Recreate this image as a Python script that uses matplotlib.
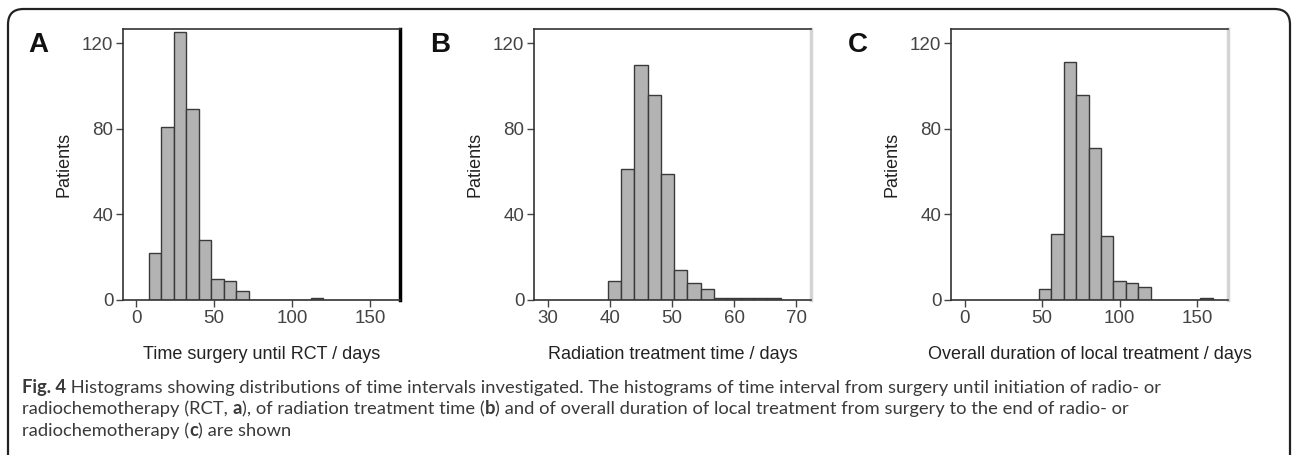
import matplotlib.pyplot as plt
from matplotlib.patches import FancyBboxPatch

# histogram counts
a_counts = [22, 81, 125, 89, 28, 10, 9, 4, 0, 0, 0, 0, 0, 1]
a_start, a_width = 8, 8
b_counts = [9, 61, 110, 96, 59, 14, 8, 5, 1, 1, 1, 1, 1]
b_start, b_width = 39.57, 2.15
c_counts = [5, 31, 111, 96, 71, 30, 9, 8, 6, 0, 0, 0, 0, 1]
c_start, c_width = 48, 8

a_ticks = [0, 50, 100, 150]
b_ticks = [30, 40, 50, 60, 70]
c_ticks = [0, 50, 100, 150]
y_ticks = [0, 40, 80, 120]

labels = ['Time surgery until RCT / days', 'Radiation treatment time / days',
          'Overall duration of local treatment / days']

plt.rcParams['font.family'] = ['Liberation Sans', 'DejaVu Sans']

W, H = 1292, 455
fig = plt.figure(figsize=(W / 100, H / 100), dpi=100)

panels = [
    ('A', a_counts, a_start, a_width, a_ticks, (-8.4, 169), 123, 28, ('black', 2.5)),
    ('B', b_counts, b_start, b_width, b_ticks, (27.7, 72.4), 534, 430, ('#d4d4d4', 2.5)),
    ('C', c_counts, c_start, c_width, c_ticks, (-8.8, 169.9), 951, 848, ('#d4d4d4', 2.5)),
]

for i, (letter, counts, start, width, ticks, xlim, left, lx, rspine) in enumerate(panels):
    ax = fig.add_axes([left / W, (H - 300) / H, 277 / W, 271 / H])
    edges = [start + k * width for k in range(len(counts))]
    ax.bar(edges, counts, width=width, align='edge', color='#b3b3b3',
           edgecolor='#3a3a3a', linewidth=1.0, zorder=2)
    ax.set_xlim(*xlim)
    ax.set_ylim(0, 126.6)
    ax.set_xticks(ticks)
    ax.set_yticks(y_ticks)
    ax.tick_params(direction='out', length=5, width=1, color='#444444',
                   labelcolor='#444444', labelsize=13.5, pad=2)
    for s in ['left', 'bottom', 'top']:
        ax.spines[s].set_color('#333333')
        ax.spines[s].set_linewidth(1.2)
    ax.spines['right'].set_color(rspine[0])
    ax.spines['right'].set_linewidth(rspine[1])
    ax.set_ylabel('Patients', fontsize=13, color='#222222', labelpad=7)
    ax.set_xlabel(labels[i], fontsize=13, color='#222222', labelpad=14)
    fig.text(lx / W, 1 - 45 / H, letter, fontsize=20, fontweight='bold',
             ha='left', va='center', color='#111111')

# outer rounded frame of the figure panel
frame = FancyBboxPatch((8 / W, -0.2), 1282 / W, 1.2 - 9 / H,
                       boxstyle='round,pad=0,rounding_size=0.012',
                       transform=fig.transFigure, fill=False,
                       edgecolor='#222222', linewidth=1.6, mutation_aspect=W / H)
fig.patches.append(frame)

# caption with bold pieces
caption = [
    [('Fig. 4', True), (' Histograms showing distributions of time intervals investigated. '
      'The histograms of time interval from surgery until initiation of radio- or', False)],
    [('radiochemotherapy (RCT, ', False), ('a', True), ('), of radiation treatment time (', False),
     ('b', True), (') and of overall duration of local treatment from surgery to the end of radio- or', False)],
    [('radiochemotherapy (', False), ('c', True), (') are shown', False)],
]
cap_y = [388, 409, 431]
fig.canvas.draw()
renderer = fig.canvas.get_renderer()
for line, yy in zip(caption, cap_y):
    x = 22
    for txt, bold in line:
        t = fig.text(x / W, 1 - yy / H, txt, fontsize=13.2, family=['Lato', 'DejaVu Sans'],
                     fontweight='bold' if bold else 'normal', color='#3a3a3a',
                     ha='left', va='center')
        bb = t.get_window_extent(renderer=renderer)
        x += bb.width

fig.savefig('out.png', dpi=100)
